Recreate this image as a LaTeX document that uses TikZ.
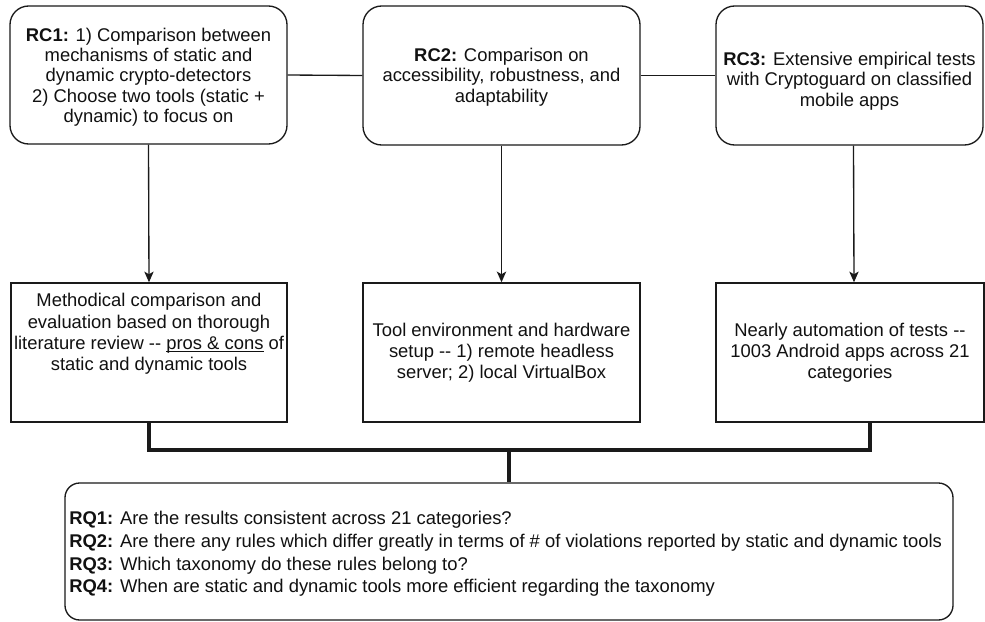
\documentclass[tikz,border=0pt]{standalone}
\usepackage{fontspec}
\setmainfont{Liberation Sans}
\usetikzlibrary{arrows.meta,fit}
\definecolor{linec}{HTML}{1A1A1A}
\definecolor{textc}{HTML}{111111}
\newcommand{\myul}[1]{\underline{\smash{#1}}}
\begin{document}
\begin{tikzpicture}[x=0.75pt,y=-0.75pt,
  rbox/.style={draw=linec, line width=1pt, rounded corners=14pt, inner sep=0pt},
  rqbox/.style={draw=linec, line width=1pt, rounded corners=11pt, inner sep=0pt},
  sbox/.style={draw=linec, line width=1.1pt, inner sep=0pt},
  txt/.style={font=\fontsize{13.8}{15.2}\selectfont, align=center, text=textc, inner sep=0pt},
  mtxt/.style={font=\fontsize{13.8}{15.9}\selectfont, align=center, text=textc, inner sep=0pt},
  rqtxt/.style={font=\fontsize{13.8}{17}\selectfont, align=left, text=textc, inner sep=0pt, anchor=west},
  thin1/.style={draw=linec, line width=1pt},
  arr/.style={draw=linec, line width=1pt, -{Stealth[length=8pt,width=7pt,inset=2pt]}},
  thk/.style={draw=linec, line width=2.3pt}]
\useasboundingbox (0,0) rectangle (985,621);
\fill[white] (0,0) rectangle (985,621);

% top row
\node[rbox, fit={(10,6) (287,144)}] (rc1) {};
\node[rbox, fit={(363,6) (640,145)}] (rc2) {};
\node[rbox, fit={(716,6) (983,145)}] (rc3) {};
\node[txt] (t1) at (148.5,77) {\textbf{RC1:} 1) Comparison between\\mechanisms of static and\\dynamic crypto-detectors\\2) Choose two tools (static +\\dynamic) to focus on};
\node[txt] (t2) at (501.5,77) {\textbf{RC2:} Comparison on\\accessibility, robustness, and\\adaptability};
\node[txt] (t3) at (849.5,81) {\textbf{RC3:} Extensive empirical tests\\with Cryptoguard on classified\\mobile apps};

% middle row
\node[sbox, fit={(11,283) (287,422)}] (m1) {};
\node[sbox, fit={(363,283) (640,422)}] (m2) {};
\node[sbox, fit={(716,283) (984,422)}] (m3) {};
\node[mtxt] (u1) at (149,334) {Methodical comparison and\\evaluation based on thorough\\literature review -{}- \myul{pros \& cons} of\\static and dynamic tools};
\node[mtxt] (u2) at (501.5,353) {Tool environment and hardware\\setup -{}- 1) remote headless\\server; 2) local VirtualBox};
\node[mtxt] (u3) at (850,353) {Nearly automation of tests -{}-\\1003 Android apps across 21\\categories};

% bottom
\node[rqbox, fit={(65,483) (953,620)}] (rq) {};
\node[rqtxt] (q) at (69,554) {\textbf{RQ1:} Are the results consistent across 21 categories?\\
\textbf{RQ2:} Are there any rules which differ greatly in terms of \# of violations reported by static and dynamic tools\\
\textbf{RQ3:} Which taxonomy do these rules belong to?\\
\textbf{RQ4:} When are static and dynamic tools more efficient regarding the taxonomy};

% connectors
\draw[thin1] (rc1.east) -- (rc2.west);
\draw[thin1] (rc2.east) -- (rc3.west);
\draw[arr] (rc1.south) -- (m1.north);
\draw[arr] (rc2.south) -- (m2.north);
\draw[arr] ([xshift=3pt]rc3.south) -- ([xshift=3pt]m3.north);

\coordinate (j) at (509,450);
\draw[thk] (m1.south) |- (j);
\draw[thk] ([xshift=15pt]m3.south) |- (j);
\draw[thk] (j) -- (rq.north);
\end{tikzpicture}
\end{document}
